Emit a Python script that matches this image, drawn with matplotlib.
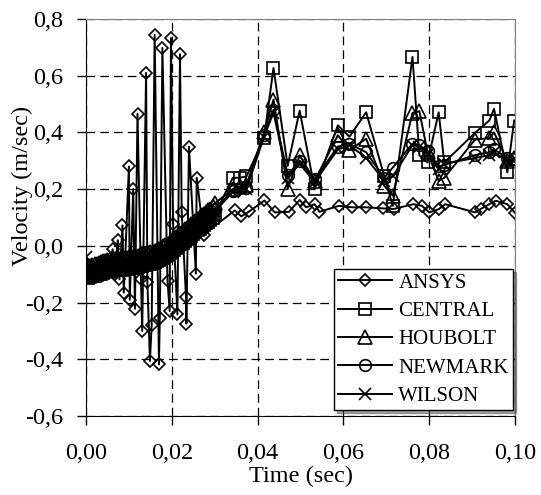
import matplotlib
matplotlib.use('Agg')
import matplotlib.pyplot as plt
from matplotlib.ticker import FuncFormatter, MultipleLocator

plt.rcParams['font.family'] = ['Liberation Serif', 'DejaVu Serif']

# ANSYS (coarse, oscillating)
t_ansys = [0.0000, 0.0008, 0.0016, 0.0024, 0.0032, 0.0040, 0.0048, 0.0055, 0.0062, 0.0067,
           0.0074, 0.0078, 0.0085, 0.0088, 0.0100, 0.0102, 0.0110, 0.0114, 0.0120, 0.0128,
           0.0131, 0.0140, 0.0143, 0.0149, 0.0153, 0.0160, 0.0170, 0.0172, 0.0178, 0.0190,
           0.0195, 0.0198, 0.0203, 0.0213, 0.0219, 0.0223, 0.0233, 0.0234, 0.0240, 0.0256,
           0.0258, 0.0274, 0.0347, 0.0362, 0.0381, 0.0416, 0.0440, 0.0473, 0.0498, 0.0513,
           0.0533, 0.0544, 0.0589, 0.0620, 0.0653, 0.0693, 0.0717, 0.0763, 0.0783, 0.0800,
           0.0823, 0.0837, 0.0907, 0.0920, 0.0940, 0.0955, 0.0982, 0.1000]
v_ansys = [-0.100, -0.095, -0.090, -0.085, -0.075, -0.065, -0.050, -0.075, -0.012, -0.100,
           0.020, -0.118, 0.072, -0.165, 0.280, -0.190, 0.200, -0.222, 0.466, -0.116,
           -0.300, 0.610, -0.127, -0.406, -0.280, 0.744, -0.418, -0.256, 0.698, -0.125,
           -0.230, 0.733, 0.077, -0.242, 0.676, 0.120, -0.180, -0.274, 0.350, -0.098,
           0.240, 0.040, 0.125, 0.104, 0.122, 0.160, 0.118, 0.120, 0.162, 0.136,
           0.147, 0.120, 0.141, 0.136, 0.136, 0.132, 0.130, 0.147, 0.141, 0.118,
           0.130, 0.147, 0.118, 0.130, 0.147, 0.159, 0.147, 0.116]

# direct integration methods: fine steps up to 0.03 s, then the later points
t_num = [0.0000, 0.0005, 0.0010, 0.0015, 0.0020, 0.0025, 0.0030, 0.0035, 0.0040, 0.0045,
         0.0050, 0.0055, 0.0060, 0.0065, 0.0070, 0.0075, 0.0080, 0.0085, 0.0090, 0.0095,
         0.0100, 0.0105, 0.0110, 0.0115, 0.0120, 0.0125, 0.0130, 0.0135, 0.0140, 0.0145,
         0.0150, 0.0155, 0.0160, 0.0165, 0.0170, 0.0175, 0.0180, 0.0185, 0.0190, 0.0195,
         0.0200, 0.0205, 0.0210, 0.0215, 0.0220, 0.0225, 0.0230, 0.0235, 0.0240, 0.0245,
         0.0250, 0.0255, 0.0260, 0.0265, 0.0270, 0.0275, 0.0280, 0.0285, 0.0290, 0.0295, 0.0300,
         0.0342, 0.0358, 0.0374, 0.0415, 0.0437, 0.0470, 0.0498, 0.0533, 0.0587, 0.0614,
         0.0653, 0.0695, 0.0715, 0.0761, 0.0777, 0.0796, 0.0822, 0.0835, 0.0907, 0.0940,
         0.0951, 0.0982, 0.0998]

v_central = [-0.110, -0.115, -0.110, -0.108, -0.105, -0.103, -0.100, -0.098, -0.095, -0.093,
             -0.090, -0.088, -0.086, -0.085, -0.085, -0.085, -0.085, -0.084, -0.083, -0.082,
             -0.080, -0.079, -0.078, -0.077, -0.075, -0.072, -0.070, -0.069, -0.067, -0.065,
             -0.063, -0.061, -0.058, -0.054, -0.050, -0.046, -0.042, -0.037, -0.032, -0.026,
             -0.020, -0.014, -0.008, -0.002, 0.005, 0.011, 0.018, 0.024, 0.030, 0.036,
             0.042, 0.048, 0.055, 0.061, 0.068, 0.074, 0.080, 0.085, 0.090, 0.100, 0.110,
             0.240, 0.240, 0.245, 0.380, 0.627, 0.282, 0.477, 0.200, 0.425, 0.385,
             0.471, 0.247, 0.141, 0.666, 0.319, 0.294, 0.471, 0.294, 0.399, 0.442,
             0.483, 0.259, 0.442]
v_houbolt = [-0.060, -0.070, -0.070, -0.068, -0.065, -0.063, -0.060, -0.058, -0.055, -0.053,
             -0.050, -0.048, -0.046, -0.045, -0.045, -0.045, -0.045, -0.044, -0.043, -0.042,
             -0.040, -0.039, -0.038, -0.037, -0.035, -0.032, -0.030, -0.029, -0.027, -0.025,
             -0.023, -0.021, -0.018, -0.014, -0.010, -0.006, -0.002, 0.003, 0.008, 0.014,
             0.020, 0.026, 0.032, 0.038, 0.045, 0.051, 0.058, 0.064, 0.070, 0.076,
             0.082, 0.088, 0.095, 0.101, 0.108, 0.114, 0.120, 0.125, 0.130, 0.140, 0.150,
             0.200, 0.210, 0.215, 0.400, 0.516, 0.200, 0.319, 0.230, 0.390, 0.338,
             0.378, 0.212, 0.177, 0.469, 0.475, 0.330, 0.229, 0.240, 0.375, 0.380,
             0.400, 0.300, 0.310]
v_newmark = [-0.100, -0.095, -0.090, -0.088, -0.085, -0.083, -0.080, -0.078, -0.075, -0.073,
             -0.070, -0.068, -0.066, -0.065, -0.065, -0.065, -0.065, -0.064, -0.063, -0.062,
             -0.060, -0.059, -0.058, -0.057, -0.055, -0.052, -0.050, -0.049, -0.047, -0.045,
             -0.043, -0.041, -0.038, -0.034, -0.030, -0.026, -0.022, -0.017, -0.012, -0.006,
             0.000, 0.006, 0.012, 0.018, 0.025, 0.031, 0.038, 0.044, 0.050, 0.056,
             0.062, 0.068, 0.075, 0.081, 0.088, 0.094, 0.100, 0.105, 0.110, 0.120, 0.130,
             0.195, 0.205, 0.205, 0.390, 0.480, 0.250, 0.300, 0.235, 0.350, 0.360,
             0.330, 0.240, 0.276, 0.360, 0.355, 0.335, 0.280, 0.285, 0.320, 0.330,
             0.340, 0.310, 0.305]
v_wilson = [-0.040, -0.105, -0.100, -0.098, -0.095, -0.093, -0.090, -0.088, -0.085, -0.083,
            -0.080, -0.078, -0.076, -0.075, -0.075, -0.075, -0.075, -0.074, -0.073, -0.072,
            -0.070, -0.069, -0.068, -0.067, -0.065, -0.062, -0.060, -0.059, -0.057, -0.055,
            -0.053, -0.051, -0.048, -0.044, -0.040, -0.036, -0.032, -0.027, -0.022, -0.016,
            -0.010, -0.004, 0.002, 0.008, 0.015, 0.021, 0.028, 0.034, 0.040, 0.046,
            0.052, 0.058, 0.065, 0.071, 0.078, 0.084, 0.090, 0.095, 0.100, 0.110, 0.120,
            0.190, 0.200, 0.200, 0.385, 0.470, 0.240, 0.290, 0.225, 0.340, 0.355,
            0.310, 0.230, 0.245, 0.355, 0.350, 0.325, 0.270, 0.290, 0.310, 0.320,
            0.330, 0.300, 0.300]

fig = plt.figure(figsize=(5.41, 4.95), dpi=100)
ax = fig.add_axes([0.159, 0.1596, 0.793, 0.802])

style = dict(color='black', lw=1.4, mfc='none', mec='black', mew=1.2)
ax.plot(t_ansys, v_ansys, marker='D', ms=6.6, label='ANSYS', **style)
ax.plot(t_num, v_central, marker='s', ms=9, label='CENTRAL', **style)
ax.plot(t_num, v_houbolt, marker='^', ms=9.5, label='HOUBOLT', **style)
ax.plot(t_num, v_newmark, marker='o', ms=8.4, label='NEWMARK', **style)
ax.plot(t_num, v_wilson, marker='x', ms=9, label='WILSON', **style)

ax.set_xlim(0, 0.10)
ax.set_ylim(-0.6, 0.8)
ax.xaxis.set_major_locator(MultipleLocator(0.02))
ax.yaxis.set_major_locator(MultipleLocator(0.2))
ax.xaxis.set_major_formatter(FuncFormatter(lambda v, p: f'{v:.2f}'.replace('.', ',')))
ax.yaxis.set_major_formatter(FuncFormatter(lambda v, p: f'{v:.1f}'.replace('.', ',').replace('-0,0', '0,0')))

ax.grid(True, color='black', lw=0.9, linestyle=(0, (7, 4)))
ax.set_axisbelow(True)
ax.spines['top'].set_color('#808080')
ax.spines['right'].set_color('#808080')
ax.tick_params(direction='out', length=6.5, width=1, labelsize=17.5)
ax.tick_params(axis='x', pad=13)
ax.tick_params(axis='y', pad=10)

ax.set_xlabel('Time (sec)', fontsize=17.5)
ax.xaxis.set_label_coords(0.5, -0.153)
ax.xaxis.label.set_verticalalignment('center')
ax.set_ylabel('Velocity (m/sec)', fontsize=17.5)
ax.yaxis.set_label_coords(-0.149, 0.579)
ax.yaxis.label.set_verticalalignment('center')

leg = ax.legend(loc='lower right', bbox_to_anchor=(0.995, 0.015), fontsize=15,
                fancybox=False, edgecolor='black', framealpha=1, shadow=True,
                handlelength=2.6, handletextpad=0.3, labelspacing=0.42,
                borderpad=0.2, borderaxespad=0)
leg.get_frame().set_linewidth(1.0)

fig.savefig('out.png', dpi=100)
